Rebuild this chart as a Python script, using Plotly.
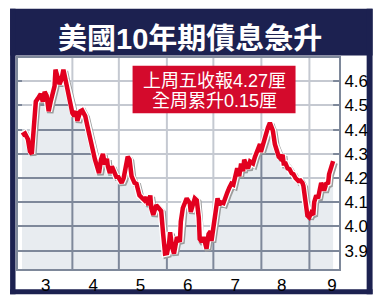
import plotly.graph_objects as go

# ---- data (days since 1 Mar, yield %) ----
day = [-1.5, 0.4, 2.3, 3.6, 4.8, 6.1, 7.4, 8.7, 10.6, 11.9, 13.1, 14.4, 15.7, 17.0, 18.2, 19.5, 20.1,
       21.4, 22.7, 24.0, 25.2, 26.5, 27.8, 29.1, 30.3, 31.0, 32.2, 33.5, 34.2, 36.1, 37.3, 39.3, 40.5,
       41.8, 43.1, 44.4, 45.6, 46.9, 48.2, 49.5, 50.7, 52.0, 53.3, 53.9, 55.2, 56.5, 58.4, 59.7, 60.3,
       62.2, 62.8, 64.1, 65.4, 66.7, 67.9, 69.2, 71.1, 72.4, 74.3, 75.6, 77.5, 78.8, 80.0, 81.3, 81.9,
       83.2, 84.5, 85.1, 86.4, 88.3, 89.6, 90.8, 92.1, 93.4, 94.1, 95.3, 96.6, 97.8, 98.5, 100.4, 101.0,
       102.3, 103.6, 104.8, 106.8, 107.4, 108.7, 110.0, 111.3, 112.6, 113.2, 114.5, 115.7, 117.0, 117.6,
       118.9, 120.2, 120.8, 122.1, 123.4, 124.7, 125.9, 126.6, 128.5, 129.8, 131.0, 132.3, 133.6, 134.9,
       136.1, 137.4, 138.7, 139.9, 141.2, 141.9, 143.1, 144.4, 145.7, 147.6, 148.9, 149.5, 150.8, 152.1,
       152.7, 154.0, 155.3, 155.9, 157.2, 158.5, 159.1, 160.4, 161.7, 162.3, 164.2, 165.5, 166.7, 167.4,
       168.6, 169.9, 171.2, 172.5, 173.7, 175.0, 176.9, 178.2, 179.5, 180.1, 181.4, 182.7, 183.9, 185.2,
       186.5, 187.1, 188.4, 189.6, 190.3, 191.6, 192.9, 193.5, 194.8, 196.1, 196.7, 198.0, 199.3]
yld = [4.376, 4.384, 4.36, 4.31, 4.30, 4.42, 4.516, 4.528, 4.548, 4.516, 4.556, 4.54, 4.476, 4.516, 4.548, 4.58, 4.648,
       4.62, 4.588, 4.608, 4.648, 4.608, 4.568, 4.54, 4.50, 4.468, 4.456, 4.476, 4.436, 4.476, 4.48, 4.456, 4.42,
       4.38, 4.36, 4.31, 4.276, 4.248, 4.22, 4.276, 4.30, 4.256, 4.28, 4.248, 4.22, 4.248, 4.216, 4.20, 4.208,
       4.188, 4.18, 4.20, 4.26, 4.288, 4.276, 4.208, 4.18, 4.176, 4.128, 4.12, 4.108, 4.12, 4.088, 4.128, 4.076,
       4.048, 4.076, 4.088, 4.078, 4.064, 3.968, 3.888, 3.89, 3.93, 3.976, 3.916, 3.888, 3.928, 3.956, 3.936, 4.02,
       4.076, 4.10, 4.116, 4.096, 4.06, 4.088, 4.116, 4.108, 4.036, 3.948, 3.936, 3.956, 3.916, 3.908,
       3.968, 3.98, 3.94, 3.996, 4.06, 4.116, 4.088, 4.10, 4.096, 4.128, 4.14, 4.16, 4.176, 4.172,
       4.208, 4.24, 4.208, 4.26, 4.228, 4.276, 4.256, 4.24, 4.268, 4.26, 4.288, 4.30, 4.328, 4.34,
       4.308, 4.34, 4.36, 4.38, 4.408, 4.428, 4.416, 4.396, 4.34, 4.328, 4.288, 4.28, 4.296, 4.26,
       4.26, 4.24, 4.236, 4.22, 4.216, 4.20, 4.188, 4.19, 4.18, 4.168, 4.10, 4.045, 4.038, 4.056,
       4.048, 4.10, 4.128, 4.116, 4.14, 4.18, 4.16, 4.148, 4.176, 4.18, 4.216, 4.248, 4.27]

month_start = [31, 61, 92, 122, 153, 184]
month_label_pos = [13.8, 44.4, 75.0, 105.5, 136.1, 166.1, 198.5]
month_labels = ["3", "4", "5", "6", "7", "8", "9"]
y_ticks = [3.9, 4.0, 4.1, 4.2, 4.3, 4.4, 4.5, 4.6]
title_text = "美國10年期債息急升"
note_lines = ["上周五收報4.27厘", "全周累升0.15厘"]

XR = [-4.1, 203.1]
YR = [3.824, 4.696]

NAVY = "#1c2150"
RED = "#e2001f"
BOX = "#d40a2c"
FILL = "#e8ecf0"
GRID = "#7e889a"
FONT = "Liberation Sans, Arial, Noto Sans CJK TC, sans-serif"

# polygons built from the data (area under / above the line)
line_pts = " L ".join(f"{d},{v}" for d, v in zip(day, yld))
under_path = f"M {day[0]},{YR[0]} L {line_pts} L {day[-1]},{YR[0]} Z"
over_path = f"M {day[0]},{YR[1]} L {line_pts} L {day[-1]},{YR[1]} Z"

fig = go.Figure()
# shadow
fig.add_trace(go.Scatter(x=[d + 1.0 for d in day], y=[v - 0.007 for v in yld], mode="lines",
                         line=dict(color="#9c9c9c", width=6.5), hoverinfo="skip", showlegend=False))
# white halo
fig.add_trace(go.Scatter(x=day, y=yld, mode="lines", line=dict(color="white", width=7),
                         hoverinfo="skip", showlegend=False))
# red line
fig.add_trace(go.Scatter(x=day, y=yld, mode="lines", line=dict(color=RED, width=4.5),
                         hoverinfo="skip", showlegend=False))

L, R, T, B = 18, 37, 58, 31
W, H = 380, 307
pw, ph = W - L - R, H - T - B


def px(x):
    return (x - L) / pw


def py(y):
    return (H - B - y) / ph


def frame_rect(x0, x1, y0, y1):
    return dict(type="rect", xref="paper", yref="paper", x0=px(x0), x1=px(x1), y0=py(y1), y1=py(y0),
                fillcolor=NAVY, line=dict(width=0), layer="below")


shapes = [
    frame_rect(10, 377, 7, 55.5),      # top band
    frame_rect(10, 377, 297, 302),     # bottom band
    frame_rect(10, 15.5, 7, 302),      # left band
    frame_rect(371, 377, 7, 302),      # right band
    dict(type="path", xref="x", yref="y", path=under_path, fillcolor=FILL, line=dict(width=0),
         layer="below"),
]
# vertical month gridlines, between axis grid and traces
for m in month_start:
    shapes.append(dict(type="line", xref="x", yref="y", x0=m, x1=m, y0=YR[0], y1=YR[1],
                       line=dict(color=GRID, width=2), layer="between"))
shapes += [
    dict(type="path", xref="x", yref="y", path=over_path, fillcolor="rgba(255,255,255,0.55)",
         line=dict(width=0), layer="between"),
    dict(type="rect", xref="paper", yref="paper", x0=px(134), x1=px(299), y0=py(115), y1=py(66),
         fillcolor=BOX, line=dict(width=0), layer="above"),
]

annotations = [
    dict(text="<b>" + title_text + "</b>", xref="paper", yref="paper", x=px(192), y=py(38),
         showarrow=False, font=dict(size=29, color="white", family=FONT), xanchor="center", yanchor="middle"),
    dict(text=note_lines[0], xref="paper", yref="paper", x=px(216.5), y=py(81.5),
         showarrow=False, font=dict(size=18, color="white", family=FONT), xanchor="center", yanchor="middle"),
    dict(text=note_lines[1], xref="paper", yref="paper", x=px(216.5), y=py(102.5),
         showarrow=False, font=dict(size=18, color="white", family=FONT), xanchor="center", yanchor="middle"),
]

fig.update_layout(
    width=W, height=H,
    margin=dict(l=L, r=R, t=T, b=B),
    paper_bgcolor="white", plot_bgcolor="white",
    shapes=shapes, annotations=annotations,
    showlegend=False,
    xaxis=dict(range=XR, tickvals=month_label_pos, ticktext=month_labels, showgrid=False,
               zeroline=False, showline=True, mirror=True, linecolor=GRID, linewidth=2,
               tickfont=dict(size=17, color="black", family=FONT)),
    yaxis=dict(range=YR, tickvals=y_ticks, ticktext=[f"{t:.1f}" for t in y_ticks],
               side="right", showgrid=True, gridcolor=GRID, gridwidth=2, zeroline=False,
               showline=True, mirror=True, linecolor=GRID, linewidth=2,
               tickfont=dict(size=17, color="black", family=FONT)),
)

fig.write_html("out.html")
